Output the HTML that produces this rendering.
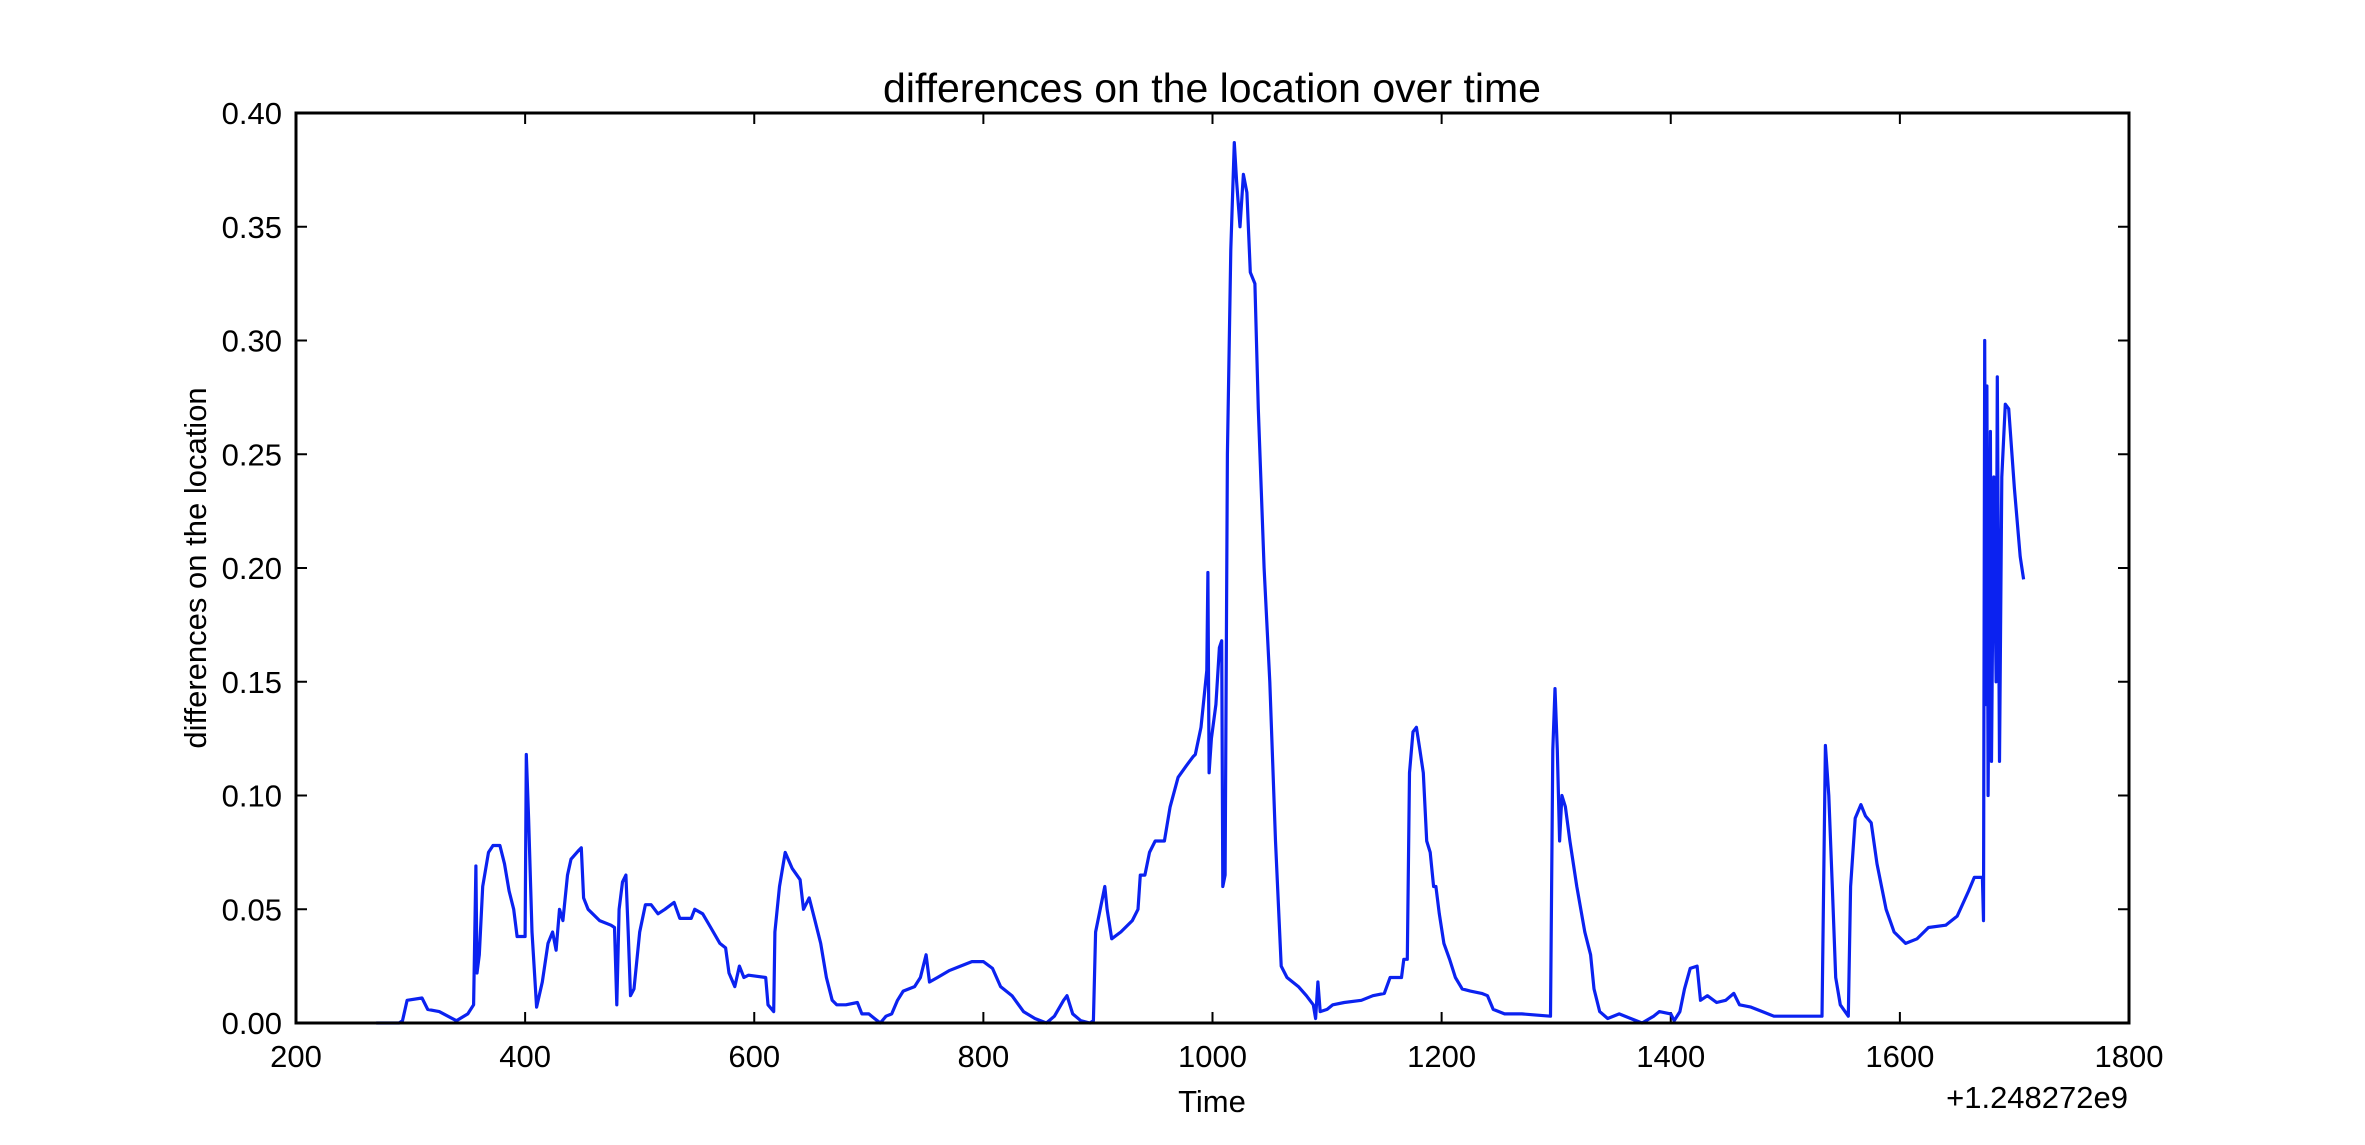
<!DOCTYPE html>
<html><head><meta charset="utf-8"><style>
body{margin:0;background:#fff;width:2365px;height:1140px;overflow:hidden}
svg text{font-family:"Liberation Sans",Arial,sans-serif;fill:#000}
</style></head><body>
<svg id="chart" width="2365" height="1140" xmlns="http://www.w3.org/2000/svg">
<rect width="2365" height="1140" fill="#fff"/>
<g id="ticks"></g>
<path id="line" fill="none" stroke="#0b22f0" stroke-width="3.2" stroke-linejoin="round"/>
<rect x="296" y="113" width="1833" height="910" fill="none" stroke="#000" stroke-width="3"/>
<text x="1212" y="102" font-size="41" text-anchor="middle">differences on the location over time</text>
<text x="1212" y="1112" font-size="31" text-anchor="middle">Time</text>
<text x="206" y="568" font-size="31" text-anchor="middle" transform="rotate(-90 206 568)">differences on the location</text>
<text x="2128" y="1108" font-size="31" text-anchor="end">+1.248272e9</text>
</svg>
<script>
const xTicks=[200,400,600,800,1000,1200,1400,1600,1800];
const yTicks=[0,0.05,0.10,0.15,0.20,0.25,0.30,0.35,0.40];
const yTickLabels=["0.00","0.05","0.10","0.15","0.20","0.25","0.30","0.35","0.40"];
const times=[270,290,293,297,310,315,325,340,350,355,357,358,360,363,368,372,378,382,386,390,393,398,400,401,403,406,410,415,420,424,427,430,433,437,440,447,449,451,455,465,475,478,480,482,485,488,490,492,495,500,505,510,516,522,530,535,545,548,555,562,570,575,578,583,587,591,595,610,612,617,618,622,627,633,640,643,648,653,658,663,668,672,680,690,694,700,705,710,715,720,725,730,740,745,750,753,760,770,780,790,800,808,815,825,835,845,855,862,870,873,878,885,893,896,898,902,906,908,912,920,930,935,937,941,945,950,958,963,970,977,983,985,990,995,996,997,999,1003,1006,1008,1009,1011,1013,1016,1019,1021,1024,1027,1030,1033,1037,1040,1045,1050,1055,1060,1065,1075,1082,1088,1090,1092,1094,1100,1105,1115,1130,1140,1150,1155,1165,1167,1170,1172,1175,1178,1181,1184,1187,1190,1193,1195,1198,1202,1207,1212,1218,1225,1235,1240,1245,1255,1270,1295,1297,1299,1301,1303,1305,1308,1312,1318,1325,1330,1333,1338,1345,1355,1365,1375,1385,1390,1400,1403,1408,1412,1417,1423,1426,1432,1440,1448,1455,1460,1470,1480,1490,1500,1532,1535,1538,1541,1544,1548,1555,1557,1561,1566,1570,1575,1580,1588,1595,1605,1615,1625,1640,1650,1660,1665,1672,1673,1674,1675,1676,1677,1679,1680,1682,1684,1685,1687,1689,1692,1695,1700,1705,1708];
const values=[0,0,0.001,0.010,0.011,0.006,0.005,0.001,0.004,0.008,0.069,0.022,0.03,0.06,0.075,0.078,0.078,0.07,0.058,0.05,0.038,0.038,0.038,0.118,0.09,0.04,0.007,0.018,0.035,0.04,0.032,0.05,0.045,0.065,0.072,0.076,0.077,0.055,0.05,0.045,0.043,0.042,0.008,0.05,0.062,0.065,0.04,0.012,0.015,0.04,0.052,0.052,0.048,0.05,0.053,0.046,0.046,0.05,0.048,0.042,0.035,0.033,0.022,0.016,0.025,0.02,0.021,0.02,0.008,0.005,0.04,0.06,0.075,0.068,0.063,0.05,0.055,0.045,0.035,0.02,0.01,0.008,0.008,0.009,0.004,0.004,0.002,0.0,0.003,0.004,0.01,0.014,0.016,0.02,0.03,0.018,0.02,0.023,0.025,0.027,0.027,0.024,0.016,0.012,0.005,0.002,0.0,0.003,0.01,0.012,0.004,0.001,0.0,0.001,0.04,0.05,0.06,0.05,0.037,0.04,0.045,0.05,0.065,0.065,0.075,0.08,0.08,0.095,0.108,0.113,0.117,0.118,0.13,0.155,0.198,0.11,0.125,0.14,0.165,0.168,0.06,0.065,0.25,0.34,0.387,0.37,0.35,0.373,0.365,0.33,0.325,0.27,0.2,0.15,0.08,0.025,0.02,0.016,0.012,0.008,0.002,0.018,0.005,0.006,0.008,0.009,0.01,0.012,0.013,0.02,0.02,0.028,0.028,0.11,0.128,0.13,0.12,0.11,0.08,0.075,0.06,0.06,0.048,0.035,0.028,0.02,0.015,0.014,0.013,0.012,0.006,0.004,0.004,0.003,0.12,0.147,0.12,0.08,0.1,0.095,0.08,0.06,0.04,0.03,0.015,0.005,0.002,0.004,0.002,0.0,0.003,0.005,0.004,0.001,0.005,0.015,0.024,0.025,0.01,0.012,0.009,0.01,0.013,0.008,0.007,0.005,0.003,0.003,0.003,0.122,0.1,0.06,0.02,0.008,0.003,0.06,0.09,0.096,0.091,0.088,0.07,0.05,0.04,0.035,0.037,0.042,0.043,0.047,0.058,0.064,0.064,0.045,0.30,0.14,0.28,0.10,0.26,0.115,0.24,0.15,0.284,0.115,0.24,0.272,0.27,0.235,0.205,0.195];
const L=296,R=2129,T=113,B=1023;
const xs=v=>L+(v-200)/1600*(R-L);
const ys=v=>B-v/0.4*(B-T);
const NS="http://www.w3.org/2000/svg";
const g=document.getElementById('ticks');
function mk(tag,attrs){const e=document.createElementNS(NS,tag);for(const k in attrs)e.setAttribute(k,attrs[k]);g.appendChild(e);return e;}
xTicks.forEach((t,i)=>{
  const x=xs(t);
  const a=mk('line',{x1:x,x2:x,y1:B,y2:B-11,stroke:'#000','stroke-width':2});
  
  
  const b=mk('line',{x1:x,x2:x,y1:T,y2:T+11,stroke:'#000','stroke-width':2});
  
  
  const tx=mk('text',{x:x,y:1067,'font-size':31,'text-anchor':'middle'});
  tx.textContent=String(t);
  
  
});
yTicks.forEach((t,i)=>{
  const y=ys(t);
  const a=mk('line',{x1:L,x2:L+11,y1:y,y2:y,stroke:'#000','stroke-width':2});
  
  
  const b=mk('line',{x1:R,x2:R-11,y1:y,y2:y,stroke:'#000','stroke-width':2});
  
  
  const tx=mk('text',{x:282,y:y+11,'font-size':31,'text-anchor':'end'});
  tx.textContent=yTickLabels[i];
  
  
});
let d='';
times.forEach((t,i)=>{d+=(i?'L':'M')+xs(t).toFixed(1)+' '+ys(values[i]).toFixed(1);});
document.getElementById('line').setAttribute('d',d);
</script>
</body></html>
